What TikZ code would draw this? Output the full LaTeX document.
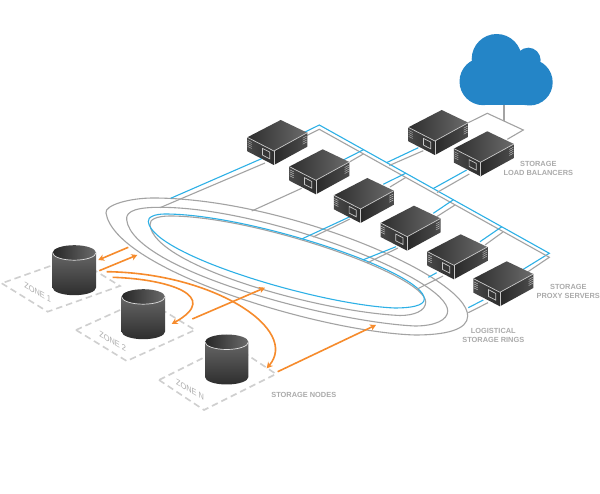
\documentclass[tikz,border=0pt]{standalone}
\usepackage{fontspec}
\setmainfont{Liberation Sans}
\usetikzlibrary{arrows.meta,calc}
\definecolor{ringgray}{HTML}{A3A3A3}
\definecolor{busblue}{HTML}{2DB0E6}
\definecolor{cloudblue}{HTML}{2485C7}
\definecolor{arroworange}{HTML}{F68B2C}
\definecolor{zonegray}{HTML}{CFCFCF}
\definecolor{labelgray}{HTML}{ABABAB}
\definecolor{edgegray}{HTML}{C8C8C8}
\tikzset{
  ringline/.style={draw=ringgray,line width=1.1pt},
  ringblue/.style={draw=busblue,line width=1.1pt},
  blueline/.style={draw=busblue,line width=1.1pt},
  grayline/.style={draw=ringgray,line width=1.1pt},
  zoneline/.style={draw=zonegray,line width=1.6pt,dash pattern=on 6.5pt off 4pt},
  flow/.style={draw=arroworange,line width=1.6pt,-{Stealth[length=6pt,width=6.5pt]}},
  caption/.style={text=labelgray,font=\bfseries\fontsize{7.4}{8.8}\selectfont,align=center,inner sep=0pt},
  zonetext/.style={text=labelgray,font=\fontsize{8.5}{9}\selectfont,inner sep=0pt,transform shape},
  serverpic/.pic={
    \shade[left color=black!82,right color=black!58] (0,0) -- (-33.4,17.3) -- (-6.8,31) -- (26.6,12.7) -- cycle;
    \shade[left color=black!72,right color=black!82] (-33.4,17.3) -- (-6.8,31) -- (-6.8,45) -- (-33.4,31.3) -- cycle;
    \shade[left color=black!84,right color=black!70] (-6.8,31) -- (26.6,12.7) -- (26.6,26.7) -- (-6.8,45) -- cycle;
    \draw[edgegray,line width=0.7pt,line join=round] (-33.4,17.3) -- (-6.8,31) -- (26.6,12.7);
    \draw[edgegray,line width=0.7pt] (-6.8,31) -- (-6.8,45);
    \draw[edgegray,line width=0.7pt] (-18.2,28.4) -- (-11,32.1) -- (-11,38.8) -- (-18.2,35.1) -- cycle;
    \foreach \v in {3,5,7,9} {
      \draw[edgegray,line width=0.4pt] (-33,17.5+\v) -- (-29,19.5+\v);
      \draw[edgegray,line width=0.4pt] (22,15.2+\v) -- (26,13+\v);
    }
  },
  cylinderpic/.pic={
    \shade[top color=black!60,bottom color=black!82]
      (-21.7,0) -- (-21.7,35) arc[start angle=180,end angle=360,x radius=21.7pt,y radius=7.5pt] -- (21.7,0) -- cycle;
    \shade[left color=black!85,right color=black!58] (0,0) ellipse[x radius=21.7pt,y radius=7.5pt];
    \draw[white!88!black,line width=0.7pt] (-21.7,0) arc[start angle=180,end angle=360,x radius=21.7pt,y radius=7.5pt];
  }
}
\begin{document}
\begin{tikzpicture}[x=1pt,y=-1pt]
\useasboundingbox (0,0) rectangle (600,494);
\fill[white] (0,0) rectangle (600,494);

% anchors
\foreach \n/\x/\y in {
  s1/280.7/120,s2/322.7/149.3,s3/367.3/178,s4/414/205.7,s5/460.7/234.3,s6/506.7/261.3,
  l1/441.7/110,l2/487.3/131.3,
  bt/319.3/125,bb/549.3/253.3,gt/319.3/129.3,gb/549.3/257.3,
  a1/300/134.5,a2/300/139,a3/170.7/198.3,a4/262/158.5,a5/160/207.7,a6/265/163,
  b1/343.3/160,b2/363.3/149.8,b3/350/161.7,b4/363.3/154,b5/301.7/188.3,b6/251.7/211,
  c1/383.3/184.3,c2/405.7/173.2,c3/390/187,c4/405.7/177.5,c5/350/216.7,c6/301.7/239,c7/350/219,c8/313/237,
  d1/433.3/213.3,d2/453.3/199.8,d3/436.7/216.7,d4/455/205,d5/396/246.7,d6/362.7/260,d7/398/248,d8/367/263,
  e1/480/241.7,e2/501.7/226.8,e3/485/245,e4/503/232,e5/436.7/272.7,e6/428.3/277.3,e7/443/276,e8/416.7/289.3,
  f1/483.3/300,f2/468.3/307.7,f3/488/302.7,f4/468.3/312.7,f5/523.3/269.3,f6/528/271.7,
  g1/418.3/147.7,g2/386.7/162.6,g3/423.3/150.7,g4/389.3/165.5,
  h1/466.7/170,h2/433.3/188.5,h3/469.3/174,h4/437/192.5,
  u1/468.3/122.7,u2/487.3/113.3,u3/523.3/130,u4/507.3/139.3,u5/504/105,u6/504/121,
  z1L/1.7/283.3,z1B/47.7/311.7,z1R/120/286,z1T/74/257.6,
  z2L/76/330,z2B/126.7/361,z2R/195/330,z2T/144.3/299,
  z3L/159/380,z3B/204/410,z3R/276/374,z3T/231/344,
  o1/128.3/247.3,o2/98.3/260,o3/99.3/270.7,o4/137.3/255,o5/106.7/271.7,o6/266.7/368.3,
  o7/112.7/277.3,o8/171.7/324,o9/192.3/319,o10/265/287.7,o11/277.7/371.7,o12/376/325}
  {\coordinate (\n) at (\x,\y);}

% zones
\draw[zoneline] (z1L) -- (z1B) -- (z1R) -- (z1T) -- cycle;
\draw[zoneline] (z2L) -- (z2B) -- (z2R) -- (z2T) -- cycle;
\draw[zoneline] (z3L) -- (z3B) -- (z3R) -- (z3T) -- cycle;

% rings
\draw[ringline] (106,213) .. controls (104.5,205) and (130,198) .. (153,198)
  .. controls (283,198) and (467.7,276) .. (467.7,316)
  .. controls (467.7,330) and (445,335) .. (415,335)
  .. controls (320,332) and (115,270) .. (106,213) -- cycle;
\draw[ringline] (126.7,220) .. controls (125,210) and (140,207.3) .. (160,207.3)
  .. controls (265,207.3) and (447.7,278) .. (447.7,311)
  .. controls (447.7,320) and (435,326) .. (415,326)
  .. controls (330,322) and (133,270) .. (126.7,220) -- cycle;
\draw[ringline] (150,225) .. controls (149,219) and (158,216) .. (170,216)
  .. controls (255,216) and (425.7,275) .. (425.7,302)
  .. controls (425.7,311) and (414,315.5) .. (400,315.5)
  .. controls (320,312) and (154,266) .. (150,225) -- cycle;
\draw[ringblue] (148.3,221.7) .. controls (147.5,217) and (155,214) .. (165,214)
  .. controls (250,214) and (424.3,272) .. (424.3,299)
  .. controls (424.3,306) and (410,308) .. (395,308)
  .. controls (320,305) and (152,255) .. (148.3,221.7) -- cycle;

% buses and branches
\draw[blueline] (a3) -- (a4) (a1) -- (bt) -- (bb) -- (f5);
\draw[grayline] (a5) -- (a6) (a2) -- (gt) -- (gb) -- (f6);
\draw[blueline] (b1) -- (b2);
\draw[grayline] (b3) -- (b4) (b5) -- (b6);
\draw[blueline] (c1) -- (c2) (c5) -- (c6);
\draw[grayline] (c3) -- (c4) (c7) -- (c8);
\draw[blueline] (d1) -- (d2) (d5) -- (d6);
\draw[grayline] (d3) -- (d4) (d7) -- (d8);
\draw[blueline] (e1) -- (e2) (e5) -- (e6);
\draw[grayline] (e3) -- (e4) (e7) -- (e8);
\draw[blueline] (f1) -- (f2);
\draw[grayline] (f3) -- (f4);
\draw[blueline] (g1) -- (g2) (h1) -- (h2);
\draw[grayline] (g3) -- (g4) (h3) -- (h4);
\draw[grayline] (u1) -- (u2) -- (u3) -- (u4);
\draw[ringgray,line width=1.4pt] (u5) -- (u6);

% cloud
\fill[cloudblue] (496.7,59) circle[radius=25pt] (528.3,60) circle[radius=12.3pt]
  (483.2,81.5) circle[radius=23.7pt] (529.5,82.3) circle[radius=23.2pt]
  (483,70) rectangle (530,105);

% servers
\foreach \n in {s1,s2,s3,s4,s5,s6,l1,l2} {\pic at (\n) {serverpic};}

% storage cylinders
\coordinate (c-one) at (74.3,252.7);
\coordinate (c-two) at (143.3,296.7);
\coordinate (c-three) at (226.7,342);
\pic at (c-one) {cylinderpic};
\pic at (c-two) {cylinderpic};
\pic at (c-three) {cylinderpic};

% flows
\draw[flow] (o1) -- (o2);
\draw[flow] (o3) -- (o4);
\draw[flow] (o5) .. controls (215,273) and (300,330) .. (o6);
\draw[flow] (o7) .. controls (168,279) and (222,296) .. (o8);
\draw[flow] (o9) -- (o10);
\draw[flow] (o11) -- (o12);

% labels
\node[caption] (tlb) at (538.3,168.7) {STORAGE\\LOAD BALANCERS};
\node[caption] (tps) at (568.3,291.3) {STORAGE\\PROXY SERVERS};
\node[caption] (trg) at (493.3,335.7) {LOGISTICAL\\STORAGE RINGS};
\node[caption] (tsn) at (303.8,394.7) {STORAGE NODES};
\begin{scope}[cm={.87,-.5,0,1,(37.7,292.7)}]
  \node[zonetext] (zt1) at (0,0) {ZONE 1};
\end{scope}
\begin{scope}[cm={.87,-.5,0,1,(112.7,341.7)}]
  \node[zonetext] (zt2) at (0,0) {ZONE 2};
\end{scope}
\begin{scope}[cm={.87,-.5,0,1,(190,390)}]
  \node[zonetext] (zt3) at (0,0) {ZONE N};
\end{scope}
\end{tikzpicture}
\end{document}
